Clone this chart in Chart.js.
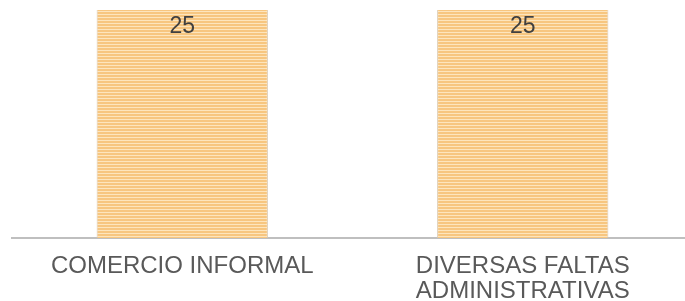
<!DOCTYPE html>
<html>
<head>
<meta charset="utf-8">
<script src="https://cdn.jsdelivr.net/npm/chart.js@4"></script>
<style>
  html, body { margin: 0; padding: 0; background: #fff; overflow: hidden; }
  #wrap { width: 693px; height: 301px; }
</style>
</head>
<body>
<div id="wrap"><canvas id="chart"></canvas></div>
<script>
const categories = [['COMERCIO INFORMAL'], ['DIVERSAS FALTAS', 'ADMINISTRATIVAS']]
const values = [25, 25]

function stripes() {
  const c = document.createElement('canvas')
  c.width = 4
  c.height = 3
  const g = c.getContext('2d')
  g.fillStyle = '#f7c680'
  g.fillRect(0, 0, 4, 3)
  g.fillStyle = '#fde5bd'
  g.fillRect(0, 2, 4, 1)
  return g.createPattern(c, 'repeat')
}

const valueLabels = {
  id: 'valueLabels',
  afterDatasetsDraw(chart) {
    const ctx = chart.ctx
    const meta = chart.getDatasetMeta(0)
    ctx.save()
    ctx.font = '23px "Liberation Sans", Arial, sans-serif'
    ctx.fillStyle = '#404040'
    ctx.textAlign = 'center'
    ctx.textBaseline = 'top'
    meta.data.forEach((bar, i) => {
      ctx.fillText(values[i], bar.x, bar.y + 5)
    })
    ctx.restore()
  }
}

new Chart(document.getElementById('chart'), {
  type: 'bar',
  data: {
    labels: categories,
    datasets: [{
      data: values,
      backgroundColor: stripes(),
      borderColor: '#d9c8b0',
      borderWidth: { left: 1, right: 1, top: 0, bottom: 0 },
      borderSkipped: false,
      barPercentage: 1,
      categoryPercentage: 0.503
    }]
  },
  options: {
    responsive: true,
    maintainAspectRatio: false,
    animation: false,
    layout: { padding: { left: 12, right: 0, top: 10, bottom: 0 } },
    plugins: { legend: { display: false }, tooltip: { enabled: false } },
    scales: {
      x: {
        afterFit(scale) { scale.height = 63 },
        grid: { display: false },
        border: { display: true, color: '#bfbfbf', width: 2 },
        ticks: {
          color: '#595959',
          font: { family: '"Liberation Sans", Arial, sans-serif', size: 24, lineHeight: 1.05 },
          padding: 8,
          maxRotation: 0
        }
      },
      y: {
        display: false,
        min: 0,
        max: 25
      }
    }
  },
  plugins: [valueLabels]
})
</script>
</body>
</html>
